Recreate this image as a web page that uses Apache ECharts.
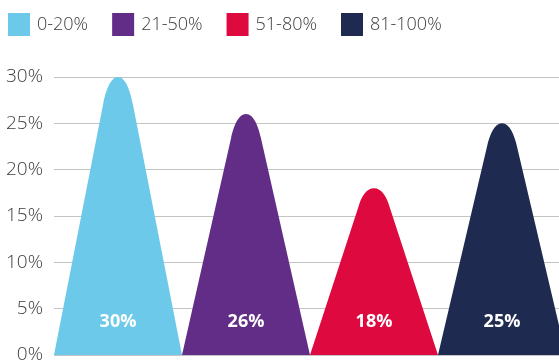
<!DOCTYPE html>
<html>
<head>
<meta charset="utf-8">
<script src="https://cdn.jsdelivr.net/npm/echarts@6/dist/echarts.min.js"></script>
<style>
  html, body { margin: 0; padding: 0; background: #fff; }
  #chart { width: 559px; height: 361px; }
</style>
</head>
<body>
<div id="chart"></div>
<script>
// Share of respondents per bracket
const categories = ['0-20%', '21-50%', '51-80%', '81-100%'];
const shares = [30, 26, 18, 25];
const colors = ['#6dc9ea', '#622d87', '#de0a3f', '#1e2a4f'];
const yTicks = { min: 0, max: 30, interval: 5 };

// Peak shape: straight flanks with a rounded tip
const peak = 'path://M0,100 L38.3,10 C40.4,5 44,0 50,0 C56,0 59.6,5 61.7,10 L100,100 Z';

const textFont = '"Open Sans", Lato, sans-serif';

const series = categories.map((name, i) => ({
  type: 'pictorialBar',
  name: name,
  data: shares.map((v, j) => (j === i ? v : '-')),
  symbol: peak,
  symbolSize: ['100%', '100%'],
  barCategoryGap: '0%',
  barGap: '-100%',
  itemStyle: { color: colors[i] },
  label: {
    show: true,
    position: 'insideBottom',
    distance: 24,
    formatter: '{c}%',
    color: '#ffffff',
    fontFamily: textFont,
    fontWeight: 'bold',
    fontSize: 18
  },
  z: 10
}));

const chart = echarts.init(document.getElementById('chart'), null, { renderer: 'canvas' });
chart.setOption({
  animation: false,
  legend: {
    data: categories,
    left: 8,
    top: 13,
    padding: 0,
    icon: 'rect',
    itemWidth: 22,
    itemHeight: 23,
    itemGap: 24,
    textStyle: {
      fontFamily: textFont,
      fontWeight: 300,
      fontSize: 18,
      color: '#3c3c3c',
      padding: [3, 0, 0, 2]
    }
  },
  grid: { left: 54, top: 77, width: 512, height: 278, outerBoundsMode: 'none' },
  xAxis: {
    type: 'category',
    data: categories,
    axisLine: { show: false },
    axisTick: { show: false },
    axisLabel: { show: false }
  },
  yAxis: {
    type: 'value',
    min: yTicks.min,
    max: yTicks.max,
    interval: yTicks.interval,
    axisLine: { show: false },
    axisTick: { show: false },
    axisLabel: {
      formatter: '{value}%',
      margin: 11,
      fontFamily: textFont,
      fontWeight: 300,
      fontSize: 19,
      color: '#3c3c3c'
    },
    splitLine: { lineStyle: { color: '#c4c4c4', width: 1 } }
  },
  series: series
});
</script>
</body>
</html>
